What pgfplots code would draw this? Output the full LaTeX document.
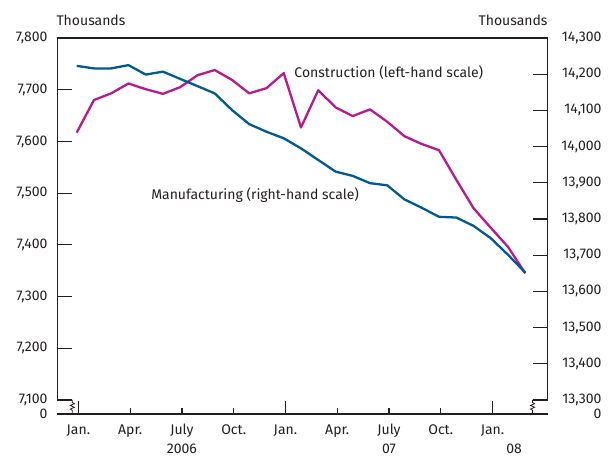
\documentclass[border=0pt]{standalone}
\usepackage{fontspec}
\setmainfont{Fira Sans}
\usepackage{pgfplots}
\usepackage{pgfplotstable}
\pgfplotsset{compat=1.18}

\definecolor{cons}{RGB}{178,28,140}
\definecolor{manu}{RGB}{0,88,140}
\definecolor{ink}{RGB}{35,31,32}

% month index: 0 = Jan. 2006
\pgfplotstableread{
m v
0 7617
1 7680
2 7693
3 7712
4 7701
5 7692
6 7705
7 7728
8 7738
9 7719
10 7693
11 7703
12 7732
13 7627
14 7699
15 7666
16 7649
17 7662
18 7638
19 7610
20 7595
21 7583
22 7526
23 7471
24 7433
25 7396
26 7345
}\construction

\pgfplotstableread{
m v
0 14223
1 14216
2 14216
3 14225
4 14199
5 14207
6 14187
7 14167
8 14147
9 14101
10 14062
11 14041
12 14023
13 13995
14 13963
15 13931
16 13919
17 13899
18 13893
19 13854
20 13831
21 13806
22 13804
23 13781
24 13747
25 13701
26 13652
}\manufacturing

\newcommand\lab{\fontsize{14}{16}\selectfont}

\begin{document}
\begin{tikzpicture}[font=\lab, ink]
\useasboundingbox (0pt,0pt) rectangle (612pt,457pt);
\pgfplotsset{
  base/.style={
    at={(57.3pt,43pt)}, anchor=south west,
    scale only axis, width=490.4pt, height=376pt,
    xmin=-1.125, xmax=27.30,
    clip=false,
    axis line style={draw=none},
    tick style={ink, line width=1.1pt},
    tick align=inside,
    major tick length=15pt,
    ticklabel style={font=\lab, ink},
    scaled y ticks=false,
    /pgf/number format/assume math mode=true,
    /pgf/number format/1000 sep={,},
  },
}

% left scale: construction
\begin{axis}[base,
  ymin=7072.9, ymax=7800,
  ytick={7100,7200,...,7800}, ytick pos=left,
  xtick=\empty,
  yticklabel style={anchor=east, inner sep=0pt, xshift=-9.6pt},
]
\addplot[cons, line width=2.3pt, line join=round] table[x=m, y=v] {\construction};
\node[anchor=west, inner sep=0pt] at (axis cs:12.61,7733) {Construction (left-hand scale)};
\node[anchor=west, inner sep=0pt] at (axis cs:4.31,7496) {Manufacturing (right-hand scale)};
\end{axis}

% right scale: manufacturing
\begin{axis}[base,
  ymin=13261.3, ymax=14300,
  ytick={13300,13400,...,14300}, ytick pos=right,
  xtick=\empty,
  yticklabel style={anchor=east, inner sep=0pt, xshift=54pt},
]
\addplot[manu, line width=2.3pt, line join=round] table[x=m, y=v] {\manufacturing};
\end{axis}

% frame, month ticks and labels (y here runs 0..1 over the plot height)
\begin{axis}[base,
  ymin=0, ymax=1, ytick=\empty,
  xtick={0.1,3.1,...,24.1}, xtick pos=bottom,
  xticklabels={Jan.,Apr.,July,Oct.,Jan.,Apr.,July,Oct.,Jan.},
  minor xtick={0.1,12.1,24.1},
  major tick length=6pt, minor tick length=13pt,
  xticklabel style={anchor=base, yshift=-21pt},
]
% left-scale ticks 7,100 ... 7,700
\draw[ink, line width=1.2pt]
  (rel axis cs:0,0.03727) -- (rel axis cs:0.0306,0.03727)
  (rel axis cs:0,0.17480) -- (rel axis cs:0.0306,0.17480)
  (rel axis cs:0,0.31233) -- (rel axis cs:0.0306,0.31233)
  (rel axis cs:0,0.44987) -- (rel axis cs:0.0306,0.44987)
  (rel axis cs:0,0.58740) -- (rel axis cs:0.0306,0.58740)
  (rel axis cs:0,0.72493) -- (rel axis cs:0.0306,0.72493)
  (rel axis cs:0,0.86247) -- (rel axis cs:0.0306,0.86247);
% right-scale ticks 13,300 ... 14,200
\draw[ink, line width=1.2pt]
  (rel axis cs:1,0.03726) -- (rel axis cs:0.9694,0.03726)
  (rel axis cs:1,0.13353) -- (rel axis cs:0.9694,0.13353)
  (rel axis cs:1,0.22981) -- (rel axis cs:0.9694,0.22981)
  (rel axis cs:1,0.32608) -- (rel axis cs:0.9694,0.32608)
  (rel axis cs:1,0.42236) -- (rel axis cs:0.9694,0.42236)
  (rel axis cs:1,0.51863) -- (rel axis cs:0.9694,0.51863)
  (rel axis cs:1,0.61491) -- (rel axis cs:0.9694,0.61491)
  (rel axis cs:1,0.71118) -- (rel axis cs:0.9694,0.71118)
  (rel axis cs:1,0.80745) -- (rel axis cs:0.9694,0.80745)
  (rel axis cs:1,0.90373) -- (rel axis cs:0.9694,0.90373);
\draw[ink, line width=1.2pt] (rel axis cs:0,0.03727) |- (rel axis cs:1,1) -- (rel axis cs:1,0.03727);
\draw[ink, line width=1.2pt] (rel axis cs:0,0) -- (rel axis cs:1,0);
% scale breaks
\draw[ink, line width=0.8pt] (axis cs:-0.255,0.03727) -- (axis cs:-0.255,0.03062) -- (axis cs:-0.139,0.02743)
  -- (axis cs:-0.371,0.02264) -- (axis cs:-0.139,0.01785) -- (axis cs:-0.371,0.01306)
  -- (axis cs:-0.255,0.00987) -- (axis cs:-0.255,0);
\draw[ink, line width=0.8pt] (axis cs:26.42,0.03727) -- (axis cs:26.42,0.03062) -- (axis cs:26.536,0.02743)
  -- (axis cs:26.304,0.02264) -- (axis cs:26.536,0.01785) -- (axis cs:26.304,0.01306)
  -- (axis cs:26.42,0.00987) -- (axis cs:26.42,0);
\node[anchor=east, inner sep=0pt, xshift=-9.6pt] at (rel axis cs:0,0) {0};
\node[anchor=east, inner sep=0pt, xshift=54pt] at (rel axis cs:1,0) {0};
\node[anchor=base west, inner sep=0pt, xshift=-1pt, yshift=12pt] at (rel axis cs:0,1) {Thousands};
\node[anchor=base east, inner sep=0pt, yshift=12pt] at (rel axis cs:1,1) {Thousands};
\node[anchor=base, yshift=-39.5pt] at (axis cs:6.1,0) {2006};
\node[anchor=base, yshift=-39.5pt] at (axis cs:18.1,0) {07};
\node[anchor=base, yshift=-39.5pt] at (axis cs:25.35,0) {08};
\end{axis}
\end{tikzpicture}
\end{document}
